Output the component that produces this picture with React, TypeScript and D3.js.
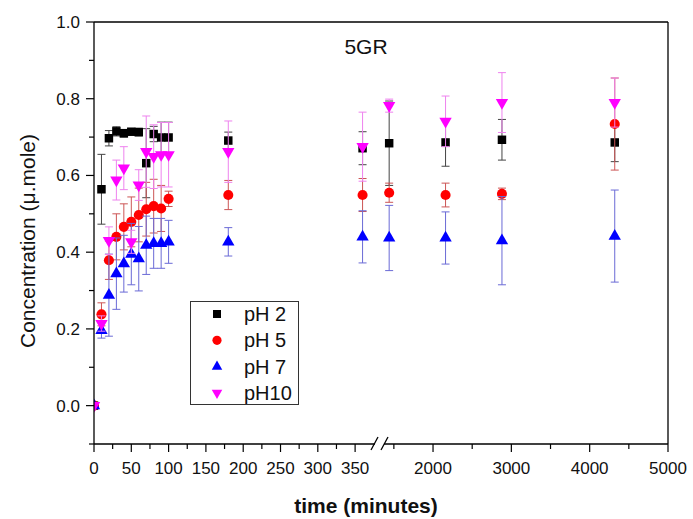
import React from "react";
import * as d3 from "d3";

const times = [0, 10, 20, 30, 40, 50, 60, 70, 80, 90, 100, 180, 360, 1440, 2160, 2880, 4320];

const pH2 = [0, 0.564, 0.697, 0.715, 0.71, 0.714, 0.713, 0.632, 0.708, 0.699, 0.699, 0.691, 0.671, 0.684, 0.686, 0.693, 0.686];
const pH2err = [0, 0.091, 0.02, 0.012, 0.01, 0.008, 0.01, 0.09, 0.02, 0.04, 0.04, 0.022, 0.043, 0.11, 0.062, 0.053, 0.05];

const pH5 = [0, 0.238, 0.379, 0.44, 0.466, 0.479, 0.497, 0.512, 0.52, 0.514, 0.539, 0.549, 0.549, 0.555, 0.549, 0.552, 0.734];
const pH5err = [0, 0.03, 0.05, 0.06, 0.06, 0.065, 0.07, 0.07, 0.07, 0.06, 0.02, 0.038, 0.043, 0.025, 0.031, 0.015, 0.12];

const pH7 = [0, 0.196, 0.288, 0.344, 0.37, 0.395, 0.383, 0.418, 0.423, 0.423, 0.427, 0.427, 0.44, 0.437, 0.437, 0.43, 0.442];
const pH7err = [0, 0.02, 0.107, 0.093, 0.074, 0.08, 0.084, 0.076, 0.065, 0.065, 0.056, 0.037, 0.068, 0.085, 0.068, 0.115, 0.12];

const pH10 = [0, 0.214, 0.43, 0.588, 0.619, 0.427, 0.575, 0.662, 0.649, 0.654, 0.654, 0.662, 0.675, 0.782, 0.741, 0.79, 0.79];
const pH10err = [0, 0.02, 0.036, 0.052, 0.056, 0.03, 0.04, 0.093, 0.083, 0.084, 0.084, 0.08, 0.09, 0.017, 0.066, 0.078, 0.064];

const seriesNames = ["pH 2", "pH 5", "pH 7", "pH10"];

const xMajorLeft = [0, 50, 100, 150, 200, 250, 300, 350];
const xMinorLeft = [25, 75, 125, 175, 225, 275, 325];
const xMajorRight = [2000, 3000, 4000, 5000];
const xMinorRight = [1500, 2500, 3500, 4500];
const yMajor = [0.0, 0.2, 0.4, 0.6, 0.8, 1.0];
const yMinor = [-0.1, 0.1, 0.3, 0.5, 0.7, 0.9];

const W = 693;
const H = 519;
const FONT = "'Liberation Sans', Arial, sans-serif";

export default function App() {
  const L = 94, R = 668, T = 22, B = 444;
  const xScale = d3.scaleLinear().domain([0, 378, 1374, 5000]).range([L, 376, 384, R]);
  const yScale = d3.scaleLinear().domain([-0.1, 1.0]).range([B, T]);

  const series = [
    { name: seriesNames[0], vals: pH2, err: pH2err, color: "#000000", errColor: "#444444", sym: d3.symbolSquare, size: 72, rot: 0, lsize: 64 },
    { name: seriesNames[1], vals: pH5, err: pH5err, color: "#ff0000", errColor: "#cc5555", sym: d3.symbolCircle, size: 80, rot: 0, lsize: 66 },
    { name: seriesNames[2], vals: pH7, err: pH7err, color: "#0000ff", errColor: "#6a6ad6", sym: d3.symbolTriangle, size: 66, rot: 0, lsize: 48 },
    { name: seriesNames[3], vals: pH10, err: pH10err, color: "#ff00ff", errColor: "#ee82ee", sym: d3.symbolTriangle, size: 66, rot: 180, lsize: 48 },
  ];

  const axisY = B;
  const breakX1 = 375;
  const breakX2 = 384;

  return (
    <svg width={W} height={H} style={{ position: "absolute", left: 0, top: 0, background: "#fff" }} fontFamily={FONT}>
      <defs>
        <clipPath id="plotclip">
          <rect x={L} y={T} width={R - L} height={B - T} />
        </clipPath>
      </defs>
      <rect x={0} y={0} width={W} height={H} fill="#fff" />

      {/* data */}
      <g clipPath="url(#plotclip)">
        {series.map((s, si) => (
          <g key={si}>
            {times.map((t, i) => {
              const e = s.err[i];
              if (!e) return null;
              const x = xScale(t);
              const y1 = yScale(s.vals[i] + e);
              const y2 = yScale(s.vals[i] - e);
              return (
                <g key={i} stroke={s.errColor} strokeWidth={1}>
                  <line x1={x} x2={x} y1={y1} y2={y2} />
                  <line x1={x - 4} x2={x + 4} y1={y1} y2={y1} />
                  <line x1={x - 4} x2={x + 4} y1={y2} y2={y2} />
                </g>
              );
            })}
            {times.map((t, i) => (
              <path
                key={"m" + i}
                d={d3.symbol(s.sym, s.size)() as string}
                transform={`translate(${xScale(t)},${yScale(s.vals[i])}) rotate(${s.rot})`}
                fill={s.color}
              />
            ))}
          </g>
        ))}
      </g>

      {/* frame */}
      <g stroke="#000" strokeWidth={1.3} fill="none">
        <line x1={L} x2={R} y1={T} y2={T} />
        <line x1={R} x2={R} y1={T} y2={B} />
        <line x1={L} x2={L} y1={T} y2={B} />
        <line x1={L} x2={breakX1} y1={axisY} y2={axisY} />
        <line x1={breakX2} x2={R} y1={axisY} y2={axisY} />
        <line x1={breakX1 - 4} x2={breakX1 + 3} y1={axisY + 6} y2={axisY - 7} />
        <line x1={breakX2 - 3} x2={breakX2 + 4} y1={axisY + 6} y2={axisY - 7} />
      </g>

      {/* y ticks */}
      <g stroke="#000" strokeWidth={1.2}>
        {yMajor.map((v) => (
          <line key={"ym" + v} x1={L - 8} x2={L} y1={yScale(v)} y2={yScale(v)} />
        ))}
        {yMinor.map((v) => (
          <line key={"yn" + v} x1={L - 5} x2={L} y1={yScale(v)} y2={yScale(v)} />
        ))}
      </g>
      <g fontSize={17} fill="#111" textAnchor="end">
        {yMajor.map((v) => (
          <text key={"yl" + v} x={80} y={yScale(v) + 6}>
            {v.toFixed(1)}
          </text>
        ))}
      </g>

      {/* x ticks */}
      <g stroke="#000" strokeWidth={1.2}>
        {[...xMajorLeft, ...xMajorRight].map((v) => (
          <line key={"xm" + v} x1={xScale(v)} x2={xScale(v)} y1={B} y2={B + 8} />
        ))}
        {[...xMinorLeft, ...xMinorRight].map((v) => (
          <line key={"xn" + v} x1={xScale(v)} x2={xScale(v)} y1={B} y2={B + 5} />
        ))}
      </g>
      <g fontSize={17} fill="#111" textAnchor="middle">
        {[...xMajorLeft, ...xMajorRight].map((v) => (
          <text key={"xl" + v} x={xScale(v)} y={474}>
            {v}
          </text>
        ))}
      </g>

      {/* title */}
      <text x={366} y={54} fontSize={21} textAnchor="middle" fill="#111">
        5GR
      </text>

      {/* axis labels */}
      <text x={366} y={513} fontSize={21} fontWeight="bold" textAnchor="middle" fill="#111">
        time (minutes)
      </text>
      <text
        transform={`translate(35,241) rotate(-90)`}
        fontSize={21}
        textAnchor="middle"
        fill="#111"
      >
        Concentration (μ.mole)
      </text>

      {/* legend */}
      <g>
        <rect x={190.5} y={301.5} width={108} height={103} fill="#fff" stroke="#333" strokeWidth={1} />
        {series.map((s, i) => {
          const cy = 314 + i * 26.3;
          return (
            <g key={"lg" + i}>
              <path
                d={d3.symbol(s.sym, s.lsize)() as string}
                transform={`translate(217,${cy}) rotate(${s.rot})`}
                fill={s.color}
              />
              <text x={244} y={cy + 7} fontSize={20} fill="#111">
                {s.name}
              </text>
            </g>
          );
        })}
      </g>
    </svg>
  );
}
